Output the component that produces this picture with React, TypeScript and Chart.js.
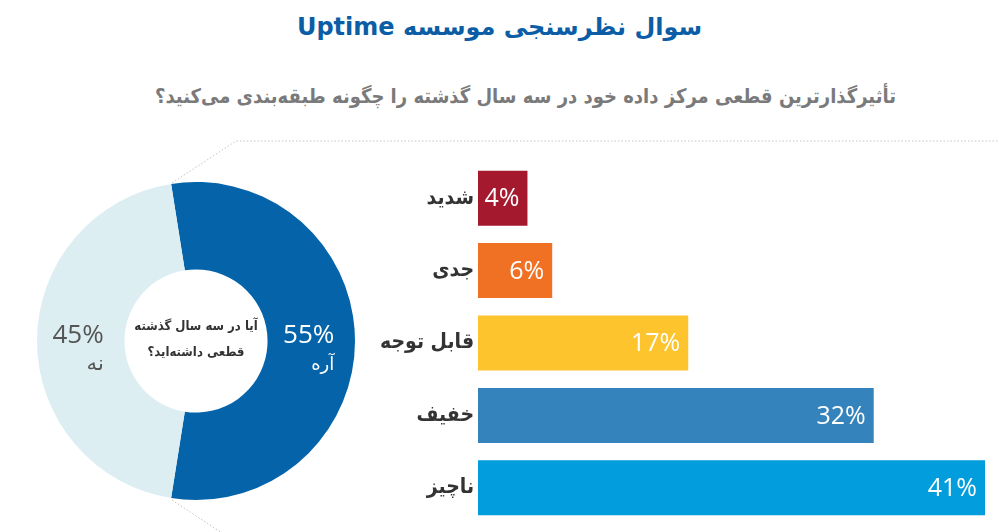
import React, { useEffect, useRef } from "react";
import { Chart, registerables } from "chart.js";

Chart.register(...registerables);

const titleText = "سوال نظرسنجی موسسه Uptime";
const subtitleText = "تأثیرگذارترین قطعی مرکز داده خود در سه سال گذشته را چگونه طبقه‌بندی می‌کنید؟";

const pieLabels = ["آره", "نه"];
const pieValues = [55, 45];
const pieColors = ["#0563A9", "#DCEEF2"];
const pieTextColors = ["#FFFFFF", "#555555"];
const centerLines = ["آیا در سه سال گذشته", "قطعی داشته‌اید؟"];

const barCategories = ["شدید", "جدی", "قابل توجه", "خفیف", "ناچیز"];
const barValues = [4, 6, 17, 32, 41];
const barColors = ["#A5192F", "#F07024", "#FEC42E", "#3483BC", "#029DDD"];

const FA = '"DejaVu Sans", "Noto Sans", sans-serif';
const FAC = '"DejaVu Sans Condensed", "DejaVu Sans", "Noto Sans", sans-serif';
const NUM = '"Open Sans", "Noto Sans", sans-serif';

export default function App() {
  const pieRef = useRef<HTMLCanvasElement | null>(null);
  const barRef = useRef<HTMLCanvasElement | null>(null);

  useEffect(() => {
    document.body.style.margin = "0";
    const pieLabelPlugin = {
      id: "pieLabels",
      afterDatasetsDraw(chart: any) {
        const ctx = chart.ctx;
        const meta = chart.getDatasetMeta(0);
        ctx.save();
        meta.data.forEach((arc: any, i: number) => {
          const p = arc.tooltipPosition();
          ctx.fillStyle = pieTextColors[i];
          ctx.textAlign = "right";
          ctx.textBaseline = "middle";
          ctx.font = `400 26px ${NUM}`;
          ctx.fillText(pieValues[i] + "%", p.x + 23, p.y - 5);
          ctx.font = `400 ${i === 0 ? 18 : 21}px ${FA}`;
          ctx.direction = "rtl";
          ctx.textAlign = "right";
          ctx.fillText(pieLabels[i], p.x + 23, p.y + 24);
          ctx.direction = "ltr";
        });
        const cx = (chart.chartArea.left + chart.chartArea.right) / 2;
        const cy = (chart.chartArea.top + chart.chartArea.bottom) / 2;
        ctx.fillStyle = "#333333";
        ctx.font = `bold 13px ${FAC}`;
        ctx.textAlign = "center";
        ctx.direction = "rtl";
        ctx.fillText(centerLines[0], cx, cy - 14);
        ctx.fillText(centerLines[1], cx, cy + 12);
        ctx.restore();
      },
    };
    const pie = new Chart(pieRef.current as HTMLCanvasElement, {
      type: "doughnut",
      data: {
        labels: pieLabels,
        datasets: [
          {
            data: pieValues,
            backgroundColor: pieColors,
            borderWidth: 0,
          },
        ],
      },
      options: {
        responsive: false,
        animation: false,
        rotation: -9,
        cutout: "45%",
        plugins: { legend: { display: false }, tooltip: { enabled: false } },
      },
      plugins: [pieLabelPlugin],
    } as any);

    const barLabelPlugin = {
      id: "barLabels",
      afterDatasetsDraw(chart: any) {
        const ctx = chart.ctx;
        const meta = chart.getDatasetMeta(0);
        ctx.save();
        ctx.fillStyle = "#FFFFFF";
        ctx.font = `400 25px ${NUM}`;
        ctx.textAlign = "right";
        ctx.textBaseline = "middle";
        meta.data.forEach((bar: any, i: number) => {
          ctx.fillText(barValues[i] + "%", bar.x - 8, bar.y + 1);
        });
        ctx.restore();
      },
    };
    const bar = new Chart(barRef.current as HTMLCanvasElement, {
      type: "bar",
      data: {
        labels: barCategories,
        datasets: [
          {
            data: barValues,
            backgroundColor: barColors,
            borderWidth: 0,
            barPercentage: 0.76,
            categoryPercentage: 1,
          },
        ],
      },
      options: {
        indexAxis: "y",
        responsive: false,
        animation: false,
        layout: { padding: { right: 14, top: 0, bottom: 0, left: 0 } },
        scales: {
          x: { display: false, min: 0, max: 41 },
          y: {
            grid: { display: false, drawTicks: false },
            border: { display: false },
            ticks: {
              color: "#333333",
              padding: 4,
              font: { family: FAC, size: 21, weight: "bold" },
            },
            afterFit: (s: any) => {
              s.width = 108;
              s.paddingTop = 0;
              s.paddingBottom = 0;
            },
          },
        },
        plugins: { legend: { display: false }, tooltip: { enabled: false } },
      },
      plugins: [barLabelPlugin],
    } as any);

    return () => {
      pie.destroy();
      bar.destroy();
    };
  }, []);

  return (
    <div style={{ position: "relative", width: 999, height: 532, background: "#fff", overflow: "hidden" }}>
      <div
        dir="rtl"
        style={{
          position: "absolute",
          top: 11,
          left: 0,
          width: 999,
          textAlign: "center",
          fontFamily: FA,
          fontWeight: "bold",
          fontSize: 24,
          lineHeight: "32px",
          color: "#0B5EA6",
        }}
      >
        {titleText}
      </div>
      <div
        dir="rtl"
        style={{
          position: "absolute",
          top: 82,
          left: 26,
          width: 999,
          textAlign: "center",
          fontFamily: FAC,
          fontWeight: "bold",
          fontSize: 20,
          lineHeight: "28px",
          color: "#7A7A7A",
        }}
      >
        {subtitleText}
      </div>
      <svg width={999} height={532} style={{ position: "absolute", left: 0, top: 0 }}>
        <polyline
          points="172,183 236,141 999,141"
          fill="none"
          stroke="#C4C4C4"
          strokeWidth={1}
          strokeDasharray="1.5 2"
        />
        <polyline points="172,500 222,533" fill="none" stroke="#C4C4C4" strokeWidth={1} strokeDasharray="1.5 2" />
      </svg>
      <canvas
        ref={pieRef}
        width={318}
        height={318}
        style={{ position: "absolute", left: 37, top: 182, width: 318, height: 318 }}
      />
      <canvas
        ref={barRef}
        width={629}
        height={362}
        style={{ position: "absolute", left: 370, top: 162, width: 629, height: 362 }}
      />
    </div>
  );
}
